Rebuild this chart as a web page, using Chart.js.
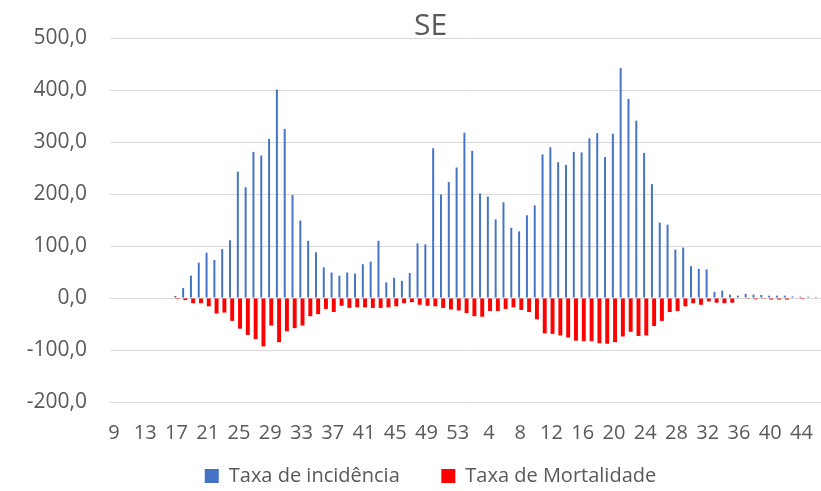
<!DOCTYPE html>
<html lang="pt">
<head>
  <meta charset="UTF-8" />
  <title>SE</title>
  <script src="https://cdn.jsdelivr.net/npm/chart.js"></script>
  <style>
    html, body { margin: 0; padding: 0; background: #fff; }
    #wrap { width: 821px; height: 491px; }
  </style>
</head>
<body>
  <div id="wrap"><canvas id="chart"></canvas></div>

  <script>
    // semanas epidemiologicas (9..53, depois 1..46)
    const semanas = [
      9, 10, 11, 12, 13, 14, 15, 16, 17, 18, 19, 20, 21, 22, 23, 24, 25, 26, 27, 28,
      29, 30, 31, 32, 33, 34, 35, 36, 37, 38, 39, 40, 41, 42, 43, 44, 45, 46, 47, 48,
      49, 50, 51, 52, 53, 1, 2, 3, 4, 5, 6, 7, 8, 9, 10, 11, 12, 13, 14, 15,
      16, 17, 18, 19, 20, 21, 22, 23, 24, 25, 26, 27, 28, 29, 30, 31, 32, 33, 34, 35,
      36, 37, 38, 39, 40, 41, 42, 43, 44, 45, 46
    ];

    const incidencia = [
      0, 0, 0, 0, 0, 0, 0, 0, 4, 19, 43, 68, 87, 73, 94, 111, 243, 213, 281, 274,
      306, 401, 325, 198, 149, 110, 88, 59, 49, 43, 49, 47, 65, 70, 110, 30, 39, 33, 48, 105,
      103, 288, 199, 223, 251, 318, 283, 201, 195, 151, 184, 135, 128, 159, 178, 276, 290, 261, 256, 281,
      280, 307, 317, 271, 316, 442, 383, 341, 279, 219, 145, 141, 93, 97, 61, 56, 55, 12, 14, 6.5,
      4.5, 8, 6.5, 6, 4.5, 4.5, 4.5, 3, 2.5, 2.5, 2
    ];

    const mortalidade = [
      0, 0, 0, 0, 0, -1, -1, -1, -2, -4, -10, -10, -16, -30, -28, -44, -59, -71, -79, -93,
      -53, -85, -64, -58, -53, -35, -31, -21, -27, -15, -19, -18, -18, -19, -19, -18, -16, -10, -8, -13,
      -15, -16, -19, -22, -24, -29, -35, -36, -25, -25, -21, -18, -23, -27, -41, -68, -69, -72, -76, -82,
      -83, -83, -87, -88, -85, -74, -65, -73, -72, -54, -44, -27, -25, -16, -10, -13, -6.5, -9, -10, -9,
      -1, -1.5, -2.5, -1.5, -3, -3, -3, -1, -2, -1, -1
    ];

    const FONT = "'Open Sans', 'Noto Sans', sans-serif";
    const GREY = '#595959';

    // o eixo y fica estreito (para centrar titulo/legenda); deixa os rotulos sairem para a esquerda
    const yLabelRoom = {
      id: 'yLabelRoom',
      afterLayout(chart) {
        chart.scales.y.left = 0;
      }
    };

    new Chart(document.getElementById('chart'), {
      type: 'bar',
      data: {
        labels: semanas,
        datasets: [{
          label: 'Taxa de incidência',
          data: incidencia,
          backgroundColor: '#4472C4',
          categoryPercentage: 0.56,
          barPercentage: 0.9
        }, {
          label: 'Taxa de Mortalidade',
          data: mortalidade,
          backgroundColor: '#FF0000',
          categoryPercentage: 0.56,
          barPercentage: 1.8
        }]
      },
      plugins: [yLabelRoom],
      options: {
        responsive: true,
        maintainAspectRatio: false,
        animation: false,
        layout: { padding: { left: 40, right: 0, top: 0, bottom: -5 } },
        plugins: {
          title: {
            display: true,
            text: 'SE',
            color: GREY,
            font: { family: FONT, size: 30, weight: 'normal', lineHeight: 1 },
            padding: { top: 11, bottom: -3 }
          },
          legend: {
            position: 'bottom',
            labels: {
              color: GREY,
              font: { family: FONT, size: 20 },
              boxWidth: 14,
              boxHeight: 14,
              padding: 0,
              // espaco extra entre os dois itens da legenda
              generateLabels: function (chart) {
                const items = Chart.defaults.plugins.legend.labels.generateLabels(chart);
                items[0].text = items[0].text + '        ';
                return items;
              }
            }
          },
          tooltip: { enabled: false }
        },
        scales: {
          x: {
            grid: { display: false, drawTicks: false },
            border: { display: false },
            ticks: {
              color: GREY,
              font: { family: FONT, size: 20 },
              autoSkip: false,
              maxRotation: 0,
              padding: 19,
              callback: function (val, index) {
                return index % 4 === 0 ? this.getLabelForValue(val) : '';
              }
            },
            afterFit: function (scale) {
              scale.paddingLeft = 0;
              scale.paddingRight = 0;
              scale.height = 64;
            }
          },
          y: {
            min: -200,
            max: 500,
            grid: { color: '#d9d9d9', lineWidth: 1, drawTicks: false },
            border: { display: false },
            ticks: {
              stepSize: 100,
              color: GREY,
              font: { family: FONT, size: 21 },
              padding: 23,
              callback: v => v.toFixed(1).replace('.', ',')
            },
            afterFit: function (scale) {
              scale.width = 70;
            }
          }
        }
      }
    });
  </script>
</body>
</html>
